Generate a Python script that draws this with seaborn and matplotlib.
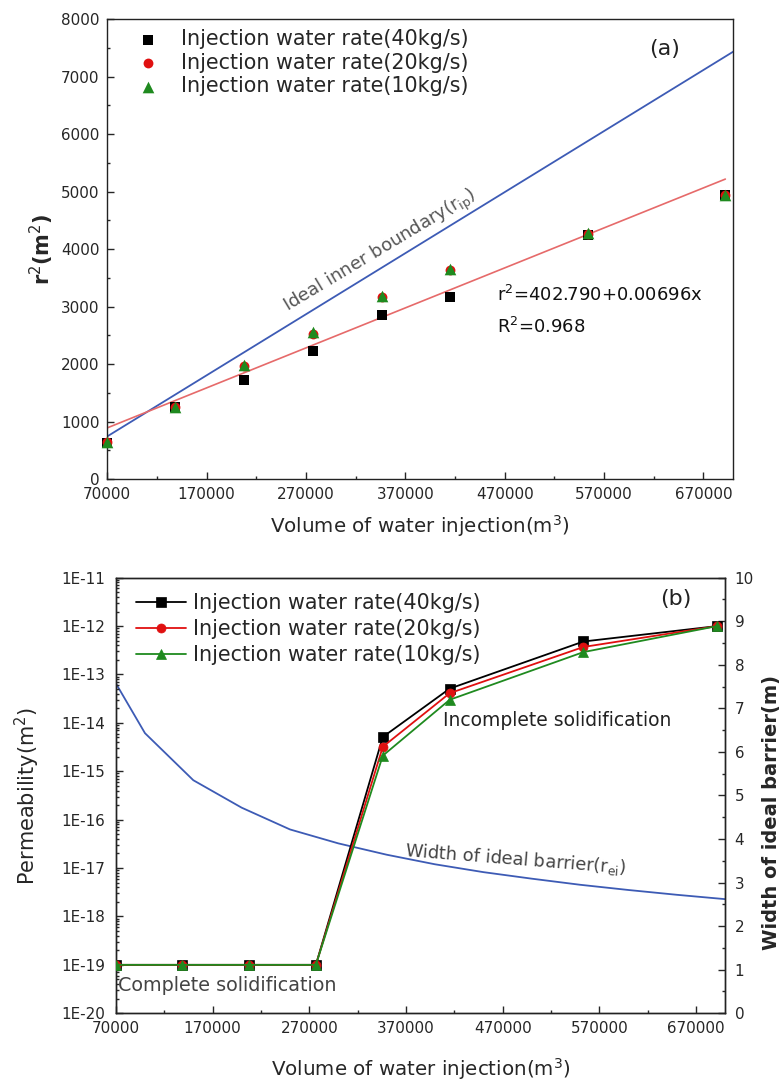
import numpy as np
import pandas as pd
import matplotlib
matplotlib.use("Agg")
import matplotlib.pyplot as plt
import matplotlib.ticker as mticker
import seaborn as sns

# ---------------- data ----------------
volume = [70000, 138400, 207600, 276800, 346000, 415200, 553600, 692000]
labels = ["Injection water rate(40kg/s)", "Injection water rate(20kg/s)",
          "Injection water rate(10kg/s)"]

# panel (a): r^2 (m^2)
r2_40 = [620, 1250, 1720, 2230, 2850, 3170, 4250, 4940]
r2_20 = [640, 1250, 1960, 2530, 3170, 3630, 4260, 4940]
r2_10 = [650, 1260, 1985, 2550, 3185, 3650, 4275, 4945]
fit_coef = [402.790, 0.00696]          # r^2 = a + b x
ideal_volume = [70000, 700000]
ideal_r2 = [742, 7437]

# panel (b): permeability (m^2)
perm_40 = [1e-19, 1e-19, 1e-19, 1e-19, 5.1e-15, 5.1e-14, 4.8e-13, 1e-12]
perm_20 = [1e-19, 1e-19, 1e-19, 1e-19, 3.2e-15, 4.1e-14, 3.7e-13, 1e-12]
perm_10 = [1e-19, 1e-19, 1e-19, 1e-19, 2.1e-15, 3.0e-14, 2.9e-13, 1e-12]
barrier_volume = [70000, 100000, 150000, 200000, 250000, 300000, 350000,
                  400000, 450000, 500000, 550000, 600000, 650000, 700000]
barrier_width = [7.57, 6.43, 5.35, 4.72, 4.22, 3.90, 3.64,
                 3.42, 3.24, 3.09, 2.95, 2.83, 2.72, 2.62]

x_major = list(range(70000, 700001, 100000))
x_minor = list(range(120000, 700000, 100000))

# ---------------- style ----------------
sns.set_style("ticks")
plt.rcParams['font.family'] = ['DejaVu Sans']
plt.rcParams['mathtext.fontset'] = 'dejavusans'
plt.rcParams['axes.linewidth'] = 1.0
plt.rcParams['axes.edgecolor'] = '#222222'

BLACK, RED, GREEN, BLUE = '#000000', '#e01010', '#1f8a1f', '#3d5bb5'
colors = [BLACK, RED, GREEN]
markers = ['s', 'o', '^']
msizes = [50, 50, 70]

fig = plt.figure(figsize=(7.82, 10.83), dpi=100)
axa = fig.add_axes([0.1372, 0.5577, 0.8005, 0.4245])
axb = fig.add_axes([0.1483, 0.0644, 0.7788, 0.4022])

# ---------------- panel (a) ----------------
sns.lineplot(x=ideal_volume, y=ideal_r2, color=BLUE, lw=1.3, ax=axa, zorder=2)
fit_x = [volume[0], volume[-1]]
fit_y = [fit_coef[0] + fit_coef[1] * v for v in fit_x]
sns.lineplot(x=fit_x, y=fit_y, color='#e66a6a', lw=1.2, ax=axa, zorder=2)
for ys, c, m, s, lab in zip([r2_40, r2_20, r2_10], colors, markers, msizes, labels):
    sns.scatterplot(x=volume, y=ys, color=c, marker=m, s=s, edgecolor=c,
                    linewidth=0, ax=axa, label=lab, zorder=3, clip_on=False)

axa.set_xlim(70000, 700000)
axa.set_ylim(0, 8000)
axa.xaxis.set_major_locator(mticker.FixedLocator(x_major))
axa.xaxis.set_minor_locator(mticker.FixedLocator(x_minor))
axa.xaxis.set_major_formatter(mticker.FuncFormatter(lambda v, p: f"{int(v)}"))
axa.yaxis.set_major_locator(mticker.MultipleLocator(1000))
axa.yaxis.set_minor_locator(mticker.MultipleLocator(500))
axa.tick_params(which='both', direction='in', labelsize=10.9, pad=5.5,
                top=False, right=False)
axa.tick_params(which='major', length=5, width=1)
axa.tick_params(which='minor', length=2.5, width=1)
axa.set_xlabel("Volume of water injection(m$^3$)", fontsize=14.3)
axa.set_ylabel("r$^2$(m$^2$)", fontsize=15, fontweight='bold')
axa.xaxis.set_label_coords(0.5, -0.075)
axa.yaxis.set_label_coords(-0.082, 0.5)

axa.legend(loc='upper left', bbox_to_anchor=(0.045, 0.978), frameon=False,
           fontsize=14.9, handlelength=1.2, handletextpad=1.0,
           labelspacing=0.17, borderpad=0, borderaxespad=0)
axa.text(0.89, 0.935, "(a)", transform=axa.transAxes, fontsize=16,
         ha='center', va='center', color='#222222')
axa.text(252000, 2906, "Ideal inner boundary(r$_{\\rm ip}$)", fontsize=13,
         rotation=31, rotation_mode='anchor', ha='left', va='baseline',
         color='#555555')
axa.text(462000, 3200, "r$^2$=402.790+0.00696x", fontsize=13, ha='left',
         va='center', color='#111111')
axa.text(462000, 2650, "R$^2$=0.968", fontsize=13, ha='left', va='center',
         color='#111111')

# ---------------- panel (b) ----------------
for ys, c, m, lab in zip([perm_40, perm_20, perm_10], colors, markers, labels):
    sns.lineplot(x=volume, y=ys, color=c, marker=m, markersize=7 if m == '^' else 6.5,
                 markeredgecolor=c, markeredgewidth=0.5, lw=1.3, ax=axb,
                 label=lab, zorder=3)
axb.set_yscale('log')
axb.set_xlim(70000, 700000)
axb.set_ylim(1e-20, 1e-11)
axb.xaxis.set_major_locator(mticker.FixedLocator(x_major))
axb.xaxis.set_minor_locator(mticker.FixedLocator(x_minor))
axb.xaxis.set_major_formatter(mticker.FuncFormatter(lambda v, p: f"{int(v)}"))
axb.yaxis.set_major_locator(mticker.LogLocator(base=10, numticks=20))
axb.yaxis.set_minor_locator(mticker.LogLocator(base=10, subs=np.arange(2, 10), numticks=200))
axb.yaxis.set_minor_formatter(mticker.NullFormatter())
axb.yaxis.set_major_formatter(mticker.FuncFormatter(
    lambda v, p: f"1E{int(round(np.log10(v)))}"))
axb.tick_params(which='both', direction='in', labelsize=10.9, pad=5.5,
                top=False, right=False)
axb.tick_params(axis='y', pad=8)
axb.tick_params(which='major', length=5, width=1)
axb.tick_params(which='minor', length=2.5, width=1)
axb.set_xlabel("Volume of water injection(m$^3$)", fontsize=14.3)
axb.set_ylabel("Permeability(m$^2$)", fontsize=15)
axb.xaxis.set_label_coords(0.5, -0.098)
axb.yaxis.set_label_coords(-0.121, 0.5)

axr = axb.twinx()
sns.lineplot(x=barrier_volume, y=barrier_width, color=BLUE, lw=1.3, ax=axr)
axr.set_ylim(0, 10)
axr.yaxis.set_major_locator(mticker.MultipleLocator(1))
axr.yaxis.set_minor_locator(mticker.MultipleLocator(0.5))
axr.tick_params(which='both', direction='in', labelsize=10.9, pad=7)
axr.tick_params(which='major', length=5, width=1)
axr.tick_params(which='minor', length=2.5, width=1)
axr.set_ylabel("Width of ideal barrier(m)", fontsize=14, fontweight='bold')
axr.yaxis.set_label_coords(1.06, 0.46)
axr.yaxis.label.set_rotation(90)

leg = axb.legend(loc='upper left', bbox_to_anchor=(0.033, 0.965), frameon=False,
                 fontsize=14.9, handlelength=2.4, handletextpad=0.34,
                 labelspacing=0.30, borderpad=0, borderaxespad=0)
axb.set_zorder(axr.get_zorder() + 1)
axb.patch.set_visible(False)

axb.text(0.92, 0.952, "(b)", transform=axb.transAxes, fontsize=16,
         ha='center', va='center', color='#222222')
axb.text(408000, 10 ** (-11 - (720 - 577.7) / 48.3),
         "Incomplete solidification", fontsize=13.5, ha='left', va='center',
         color='#222222')
axb.text(72000, 10 ** (-11 - (985 - 577.7) / 48.3), "Complete solidification",
         fontsize=13.8, ha='left', va='center', color='#444444')
axr.text(368000, 3.6, "Width of ideal barrier(r$_{\\rm ei}$)", fontsize=12.8,
         rotation=-4.5, rotation_mode='anchor', ha='left', va='baseline',
         color='#444444')

fig.savefig("out.png", dpi=100)
